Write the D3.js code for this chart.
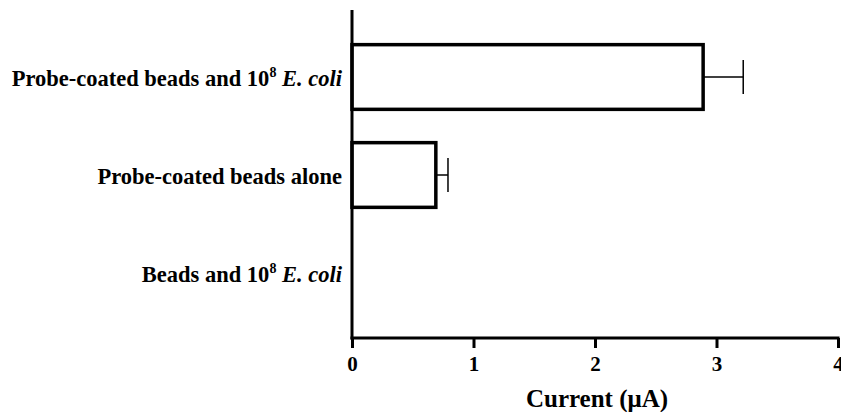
<!DOCTYPE html>
<html>
<head>
<meta charset="utf-8">
<script src="https://cdn.jsdelivr.net/npm/d3@7/dist/d3.min.js"></script>
<style>
  body { margin: 0; background: #fff; }
  svg { display: block; font-family: "Liberation Serif", "Times New Roman", serif; }
</style>
</head>
<body>
<svg id="chart" width="841" height="412"></svg>
<script>
'use strict';

const categories = ['probeEcoli', 'probeAlone', 'beadsEcoli'];
const values = [2.89, 0.69, 0];
const errors = [0.33, 0.1, 0];
const xTicks = [0, 1, 2, 3, 4];

// label pieces: [text, style]
const labels = {
  probeEcoli: [['Probe-coated beads and 10', 'n'], ['8', 'sup'], [' E. coli', 'i']],
  probeAlone: [['Probe-coated beads alone', 'n']],
  beadsEcoli: [['Beads and 10', 'n'], ['8', 'sup'], [' E. coli', 'i']]
};

const svg = d3.select('#chart');

const x = d3.scaleLinear()
    .domain([0, 4])
    .range([352, 838]);

const y = d3.scaleBand()
    .domain(categories)
    .range([28, 322])
    .paddingInner(0.34)
    .paddingOuter(0.17);

// x axis
const xAxis = d3.axisBottom(x)
    .tickValues(xTicks)
    .tickFormat(d3.format('d'))
    .tickSize(10)
    .tickPadding(8);

const gx = svg.append('g')
    .attr('transform', 'translate(0, 338)')
    .call(xAxis)
    .attr('font-family', '"Liberation Serif", "Times New Roman", serif')
    .attr('font-size', 21)
    .attr('font-weight', 'bold');
gx.select('.domain').remove();
gx.selectAll('.tick line').attr('stroke', '#000').attr('stroke-width', 3);
gx.selectAll('.tick text').attr('fill', '#000');

svg.append('line')
    .attr('x1', x(0) - 1.5).attr('x2', x(4) + 1.5)
    .attr('y1', 338).attr('y2', 338)
    .attr('stroke', '#000').attr('stroke-width', 3);

// error bars
const eb = svg.append('g')
  .selectAll('g')
  .data(categories.filter((c, i) => errors[i] > 0))
  .join('g');

eb.append('line')
    .attr('x1', c => x(values[categories.indexOf(c)]))
    .attr('x2', c => x(values[categories.indexOf(c)] + errors[categories.indexOf(c)]))
    .attr('y1', c => y(c) + y.bandwidth() / 2)
    .attr('y2', c => y(c) + y.bandwidth() / 2)
    .attr('stroke', '#000').attr('stroke-width', 1.5);

eb.append('line')
    .attr('x1', c => x(values[categories.indexOf(c)] + errors[categories.indexOf(c)]))
    .attr('x2', c => x(values[categories.indexOf(c)] + errors[categories.indexOf(c)]))
    .attr('y1', c => y(c) + y.bandwidth() / 2 - 17)
    .attr('y2', c => y(c) + y.bandwidth() / 2 + 17)
    .attr('stroke', '#000').attr('stroke-width', 1.5);

// bars
svg.append('g')
  .selectAll('rect')
  .data(categories.filter((c, i) => values[i] > 0))
  .join('rect')
    .attr('x', x(0))
    .attr('y', c => y(c))
    .attr('width', c => x(values[categories.indexOf(c)]) - x(0))
    .attr('height', y.bandwidth())
    .attr('fill', '#fff')
    .attr('stroke', '#000')
    .attr('stroke-width', 3.5);

// y axis line, drawn over the bar edges
svg.append('line')
    .attr('x1', x(0)).attr('x2', x(0))
    .attr('y1', 10).attr('y2', 339.5)
    .attr('stroke', '#000').attr('stroke-width', 3);

// category labels
const lab = svg.append('g')
  .selectAll('text')
  .data(categories)
  .join('text')
    .attr('x', 342)
    .attr('y', c => y(c) + y.bandwidth() / 2 + 9)
    .attr('text-anchor', 'end')
    .attr('font-weight', 'bold')
    .attr('font-size', 22.5)
    .attr('fill', '#000');

lab.each(function(c) {
  const t = d3.select(this);
  labels[c].forEach(([s, k]) => {
    const sp = t.append('tspan').text(s);
    if (k === 'sup') sp.attr('font-size', 14).attr('dy', -9);
    if (k === 'i') sp.attr('font-style', 'italic').attr('dy', 9);
  });
});

// axis title
svg.append('text')
    .attr('x', 597)
    .attr('y', 407)
    .attr('text-anchor', 'middle')
    .attr('font-weight', 'bold')
    .attr('font-size', 25)
    .attr('fill', '#000')
    .text('Current (\u03BCA)');
</script>
</body>
</html>
